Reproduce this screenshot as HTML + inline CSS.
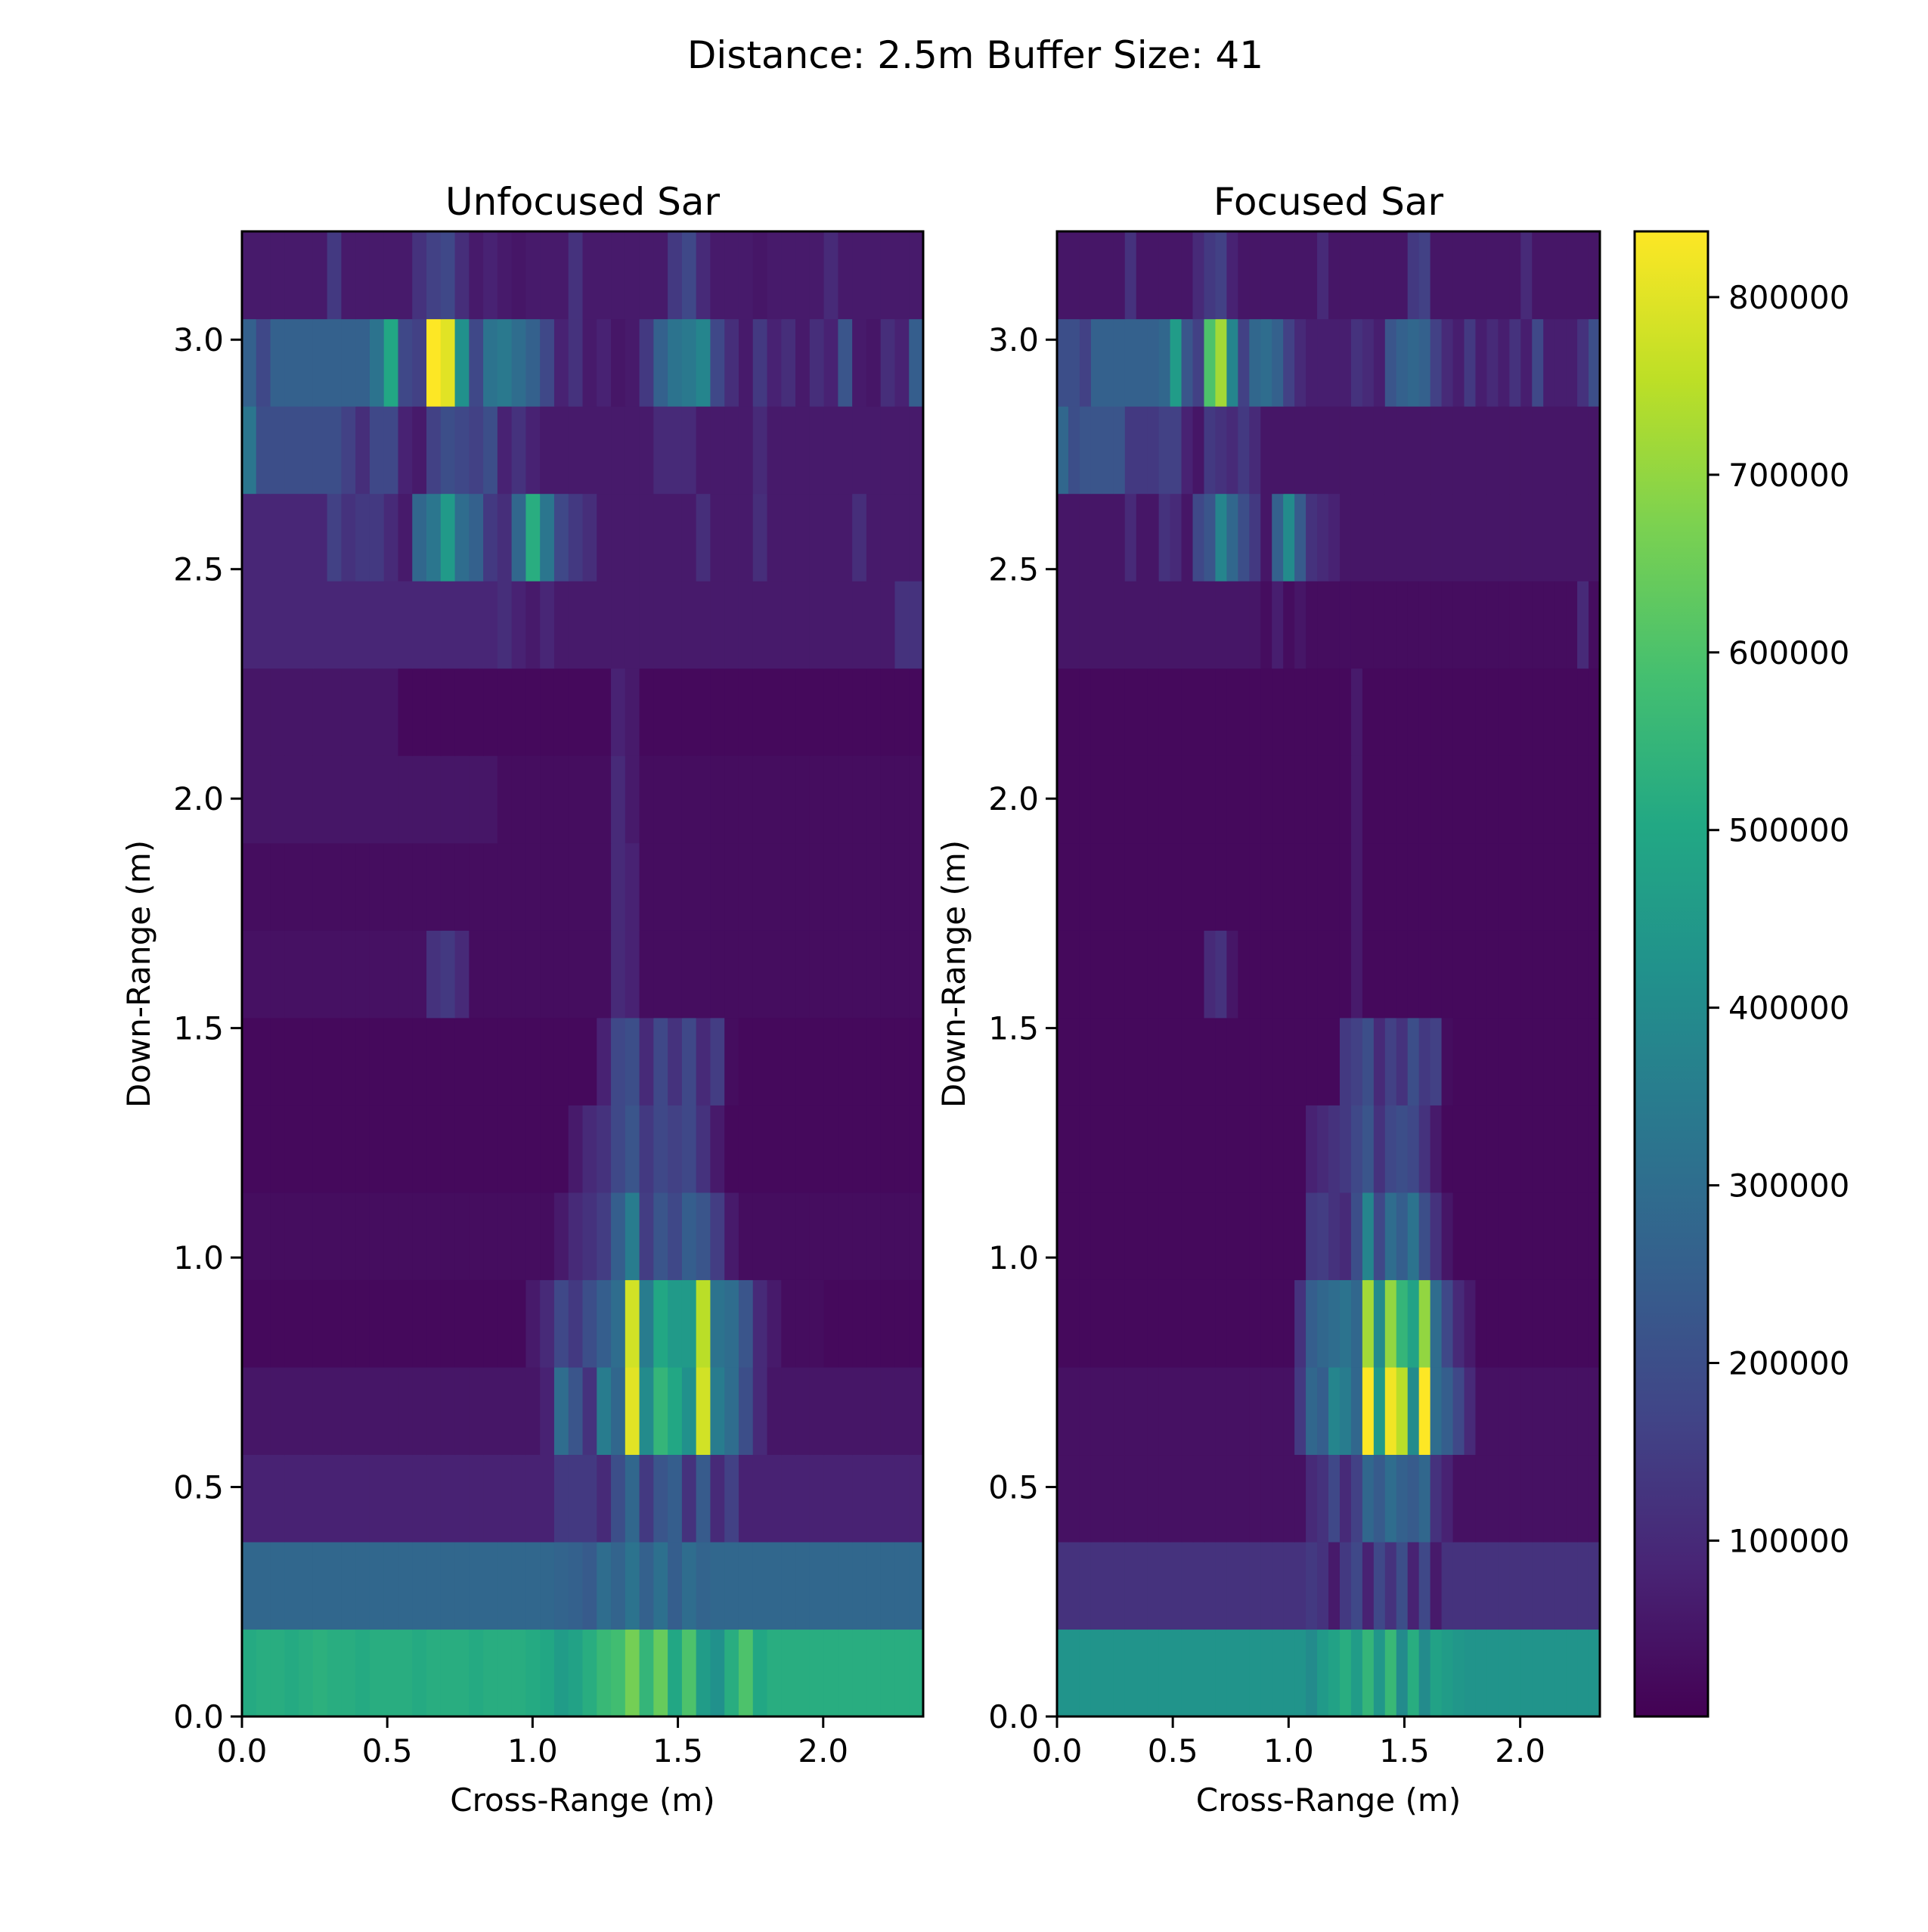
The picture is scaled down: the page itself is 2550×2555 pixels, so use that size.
<!DOCTYPE html>
<html><head><meta charset="utf-8"><style>
html,body{margin:0;padding:0;background:#fff}
svg text{font-family:"DejaVu Sans","Liberation Sans",sans-serif;fill:#000}
</style></head><body>
<svg id="fig" xmlns="http://www.w3.org/2000/svg" width="2550" height="2550" viewBox="0 0 2550 2550">
<rect width="2550" height="2550" fill="#fff"/>
<text x="1290" y="90" font-size="50" text-anchor="middle">Distance: 2.5m Buffer Size: 41</text>
<defs><linearGradient id="vir" x1="0" y1="1" x2="0" y2="0">
<stop offset="0" stop-color="#440154"/><stop offset="0.1" stop-color="#482475"/><stop offset="0.2" stop-color="#414487"/><stop offset="0.3" stop-color="#355f8d"/><stop offset="0.4" stop-color="#2a788e"/><stop offset="0.5" stop-color="#21918c"/><stop offset="0.6" stop-color="#22a884"/><stop offset="0.7" stop-color="#44bf70"/><stop offset="0.8" stop-color="#7ad151"/><stop offset="0.9" stop-color="#bddf26"/><stop offset="1" stop-color="#fde725"/>
</linearGradient></defs>
<g id="left"></g><g id="right"></g><g id="cbar"></g>
</svg>
<script>
// data in units of 10,000; rows bottom (0 m) to top
const xExtent = 2.344;
const yExtent = 3.236;
const vMin = 1000;
const vMax = 837000;
const xTicks = [0.0, 0.5, 1.0, 1.5, 2.0];
const xTickLabels = ["0.0","0.5","1.0","1.5","2.0"];
const yTicks = [0.0, 0.5, 1.0, 1.5, 2.0, 2.5, 3.0];
const yTickLabels = ["0.0","0.5","1.0","1.5","2.0","2.5","3.0"];
const cbTicks = [100000,200000,300000,400000,500000,600000,700000,800000];
const cbTickLabels = ["100000","200000","300000","400000","500000","600000","700000","800000"];
const unfocused = [
[51,52,52,51,52,53,52,52,51,52,52,52,51,52,52,52,51,52,52,52,51,50,46,48,52,56,58,66,55,64,50,60,46,42,52,60,50,52,52,52,52,52,52,52,52,52,52,52],
[28,28,28,28,28,28,28,28,28,28,28,28,28,28,28,28,28,28,28,28,28,28,27,26,24,30,27,32,26,31,25,30,27,28,28,28,28,28,28,28,28,28,28,28,28,28,28,28],
[8,8,8,8,8,8,8,8,8,8,8,8,8,8,8,8,8,8,8,8,8,8,14,14,14,10,20,28,14,22,25,12,24,10,16,8,8,8,8,8,8,8,8,8,8,8,8,8],
[5,5,5,5,5,5,5,5,5,5,5,5,5,5,5,5,5,5,5,5,5,8,30,22,12,35,28,80,40,55,50,42,78,35,30,20,10,5,5,5,5,5,5,5,5,5,5,5],
[2,2,2,2,2,2,2,2,2,2,2,2,2,2,2,2,2,2,2,2,6,10,18,14,20,25,30,78,35,50,45,45,75,32,30,22,10,6,3,3,3,2,2,2,2,2,2,2],
[3,3,3,3,3,3,3,3,3,3,3,3,3,3,3,3,3,3,3,3,3,3,6,10,12,15,25,35,15,22,18,25,22,15,6,3,3,3,3,3,3,3,3,3,3,3,3,3],
[2,2,2,2,2,2,2,2,2,2,2,2,2,2,2,2,2,2,2,2,2,2,2,6,10,12,18,22,14,18,16,18,12,6,2,2,2,2,2,2,2,2,2,2,2,2,2,2],
[2,2,2,2,2,2,2,2,2,2,2,2,2,2,2,2,2,2,2,2,2,2,2,2,2,8,18,20,10,18,12,18,10,15,3,2,2,2,2,2,2,2,2,2,2,2,2,2],
[4,4,4,4,4,4,4,4,4,4,4,4,4,12,14,10,3,3,3,3,3,3,3,3,3,3,10,8,3,3,3,3,3,3,3,3,3,3,3,3,3,3,3,3,3,3,3,3],
[3,3,3,3,3,3,3,3,3,3,3,3,3,3,3,3,3,3,3,3,3,3,3,3,3,3,10,8,3,3,3,3,3,3,3,3,3,3,3,3,3,3,3,3,3,3,3,3],
[5,5,5,5,5,5,5,5,5,5,5,5,5,5,5,5,5,5,3,3,3,3,3,3,3,3,10,6,3,3,3,3,3,3,3,3,3,3,3,3,3,3,3,3,3,3,3,3],
[5,5,5,5,5,5,5,5,5,5,5,2,2,2,2,2,2,2,2,2,2,2,2,2,2,2,8,6,2,2,2,2,2,2,2,2,2,2,2,2,2,2,2,2,2,2,2,2],
[9,9,9,9,9,9,9,9,9,9,9,9,9,9,9,9,9,9,11,8,6,9,6,6,6,6,6,6,6,6,6,6,6,6,6,6,6,6,6,6,6,6,6,6,6,6,12,12],
[9,9,9,9,9,9,16,12,14,14,10,6,28,33,45,30,26,14,11,28,52,33,18,14,11,6,6,6,6,6,6,6,11,6,6,6,11,6,6,6,6,6,6,11,6,6,6,6],
[33,20,20,20,20,20,20,16,11,18,18,8,6,16,20,18,16,20,8,12,8,6,6,6,6,6,6,6,6,10,10,10,6,6,6,6,10,6,6,6,6,6,6,6,6,6,6,6],
[26,18,26,26,26,26,26,26,26,32,50,18,16,84,80,42,18,32,34,30,26,18,8,12,6,8,5,6,14,26,32,34,38,18,11,6,14,8,11,6,11,8,22,6,5,11,8,25],
[6,6,6,6,6,6,14,6,6,6,6,6,12,16,18,11,6,8,6,5,6,6,6,12,6,6,6,6,6,6,14,18,10,6,6,6,5,6,6,6,6,10,6,6,6,6,6,6]
];
const focused = [
[43,43,43,43,43,43,43,43,43,43,43,43,43,43,43,43,43,43,43,43,43,43,40,45,48,52,46,55,44,56,40,52,40,48,46,44,43,43,43,43,43,43,43,43,43,43,43,43],
[12,12,12,12,12,12,12,12,12,12,12,12,12,12,12,12,12,12,12,12,12,12,14,12,6,14,18,8,18,12,20,8,18,6,12,12,12,12,12,12,12,12,12,12,12,12,12,12],
[4,4,4,4,4,4,4,4,4,4,4,4,4,4,4,4,4,4,4,4,4,4,10,12,18,10,16,28,24,30,26,24,28,12,8,4,4,4,4,4,4,4,4,4,4,4,4,4],
[4,4,4,4,4,4,4,4,4,4,4,4,4,4,4,4,4,4,4,4,4,14,28,25,38,35,28,84,45,82,75,40,84,30,25,18,10,4,4,4,4,4,4,4,4,4,4,4],
[2,2,2,2,2,2,2,2,2,2,2,2,2,2,2,2,2,2,2,2,2,12,25,28,30,32,28,72,40,70,55,48,70,30,18,10,6,2,2,2,2,2,2,2,2,2,2,2],
[2,2,2,2,2,2,2,2,2,2,2,2,2,2,2,2,2,2,2,2,2,2,14,15,12,10,20,38,18,30,25,32,20,12,5,2,2,2,2,2,2,2,2,2,2,2,2,2],
[2,2,2,2,2,2,2,2,2,2,2,2,2,2,2,2,2,2,2,2,2,2,8,10,12,14,18,22,12,18,20,18,12,6,2,2,2,2,2,2,2,2,2,2,2,2,2,2],
[2,2,2,2,2,2,2,2,2,2,2,2,2,2,2,2,2,2,2,2,2,2,2,2,2,14,16,20,10,16,12,20,14,16,3,2,2,2,2,2,2,2,2,2,2,2,2,2],
[2,2,2,2,2,2,2,2,2,2,2,2,2,10,12,5,2,2,2,2,2,2,2,2,2,2,6,2,2,2,2,2,2,2,2,2,2,2,2,2,2,2,2,2,2,2,2,2],
[2,2,2,2,2,2,2,2,2,2,2,2,2,2,2,2,2,2,2,2,2,2,2,2,2,2,6,2,2,2,2,2,2,2,2,2,2,2,2,2,2,2,2,2,2,2,2,2],
[2,2,2,2,2,2,2,2,2,2,2,2,2,2,2,2,2,2,2,2,2,2,2,2,2,2,6,2,2,2,2,2,2,2,2,2,2,2,2,2,2,2,2,2,2,2,2,2],
[2,2,2,2,2,2,2,2,2,2,2,2,2,2,2,2,2,2,2,2,2,2,2,2,2,2,6,2,2,2,2,2,2,2,2,2,2,2,2,2,2,2,2,2,2,2,2,2],
[5,5,5,5,5,5,5,5,5,5,5,5,5,5,5,5,5,5,3,7,3,5,3,3,3,3,3,3,3,3,3,3,3,3,3,3,3,3,3,3,3,3,3,3,3,3,10,3],
[5,5,5,5,5,5,10,5,5,12,10,5,18,22,38,28,20,14,5,26,40,24,12,10,8,5,5,5,5,5,5,5,5,5,5,5,5,5,5,5,5,5,5,5,5,5,5,5],
[28,20,22,22,22,22,14,14,14,16,16,8,5,14,12,10,14,10,5,5,5,5,5,5,5,5,5,5,5,5,5,5,5,5,5,5,5,5,5,5,5,5,5,5,5,5,5,5],
[20,20,16,26,26,26,26,26,26,28,46,22,16,60,72,38,16,28,30,26,16,10,7,7,7,7,12,10,7,22,26,28,26,16,10,7,14,7,10,7,12,7,18,7,7,7,12,20],
[5,5,5,5,5,5,12,5,5,5,5,5,10,14,16,8,5,5,5,5,5,5,5,10,5,5,5,5,5,5,5,14,16,5,5,5,5,5,5,5,5,10,5,5,5,5,5,5]
];
const NS = "http://www.w3.org/2000/svg";
const VIR = [[0x44,0x01,0x54],[0x48,0x24,0x75],[0x41,0x44,0x87],[0x35,0x5f,0x8d],[0x2a,0x78,0x8e],[0x21,0x91,0x8c],[0x22,0xa8,0x84],[0x44,0xbf,0x70],[0x7a,0xd1,0x51],[0xbd,0xdf,0x26],[0xfd,0xe7,0x25]];
function viridis(v){
  let t=(v-vMin)/(vMax-vMin); t=Math.max(0,Math.min(1,t));
  const s=t*10, i=Math.min(9,Math.floor(s)), f=s-i;
  const a=VIR[i], b=VIR[i+1];
  return "rgb("+a.map((c,k)=>Math.round(c+(b[k]-c)*f)).join(",")+")";
}
function mk(tag, attrs, parent){
  const e=document.createElementNS(NS,tag);
  for(const k in attrs) e.setAttribute(k,attrs[k]);
  parent.appendChild(e); return e;
}
function drawPanel(g, data, L, R, T, B, title, nm){
  const sx = x => L + x/xExtent*(R-L);
  const sy = y => B - y/yExtent*(B-T);
  const nr=data.length;
  const dy=yExtent/nr;
  data.forEach((row,ri)=>{
    const nc=row.length, dx=xExtent/nc;
    row.forEach((v,ci)=>{
      const x0=sx(ci*dx), x1=sx((ci+1)*dx), y0=sy((ri+1)*dy), y1=sy(ri*dy);
      const r=mk("rect",{x:x0,y:y0,width:x1-x0+0.6,height:y1-y0+0.6,fill:viridis(v*10000)},g);
      
      
    });
  });
  const fr=mk("rect",{x:L,y:T,width:R-L,height:B-T,fill:"none",stroke:"#000","stroke-width":3},g);
  
  
  xTicks.forEach((v,i)=>{
    const x=sx(v);
    const tk=mk("line",{x1:x,y1:B,x2:x,y2:B+15,stroke:"#000","stroke-width":3},g);
    
    
    const t=mk("text",{x:x,y:B+60,"font-size":42,"text-anchor":"middle"},g);
    t.textContent=xTickLabels[i];
    
    
  });
  yTicks.forEach((v,i)=>{
    const y=sy(v);
    const tk=mk("line",{x1:L-15,y1:y,x2:L,y2:y,stroke:"#000","stroke-width":3},g);
    
    
    const t=mk("text",{x:L-24,y:y+15,"font-size":42,"text-anchor":"end"},g);
    t.textContent=yTickLabels[i];
    
    
  });
  const tt=mk("text",{x:(L+R)/2,y:T-22,"font-size":50,"text-anchor":"middle"},g);
  tt.textContent=title;
  
  
  const xl=mk("text",{x:(L+R)/2,y:B+125,"font-size":42,"text-anchor":"middle"},g);
  xl.textContent="Cross-Range (m)";
  
  
  const yx=L-122, yy=(T+B)/2;
  const yl=mk("text",{x:yx,y:yy,"font-size":42,"text-anchor":"middle",transform:"rotate(-90 "+yx+" "+yy+")"},g);
  yl.textContent="Down-Range (m)";
  
  
}
drawPanel(document.getElementById("left"), unfocused, 320, 1221, 306, 2270, "Unfocused Sar", "unfocused");
drawPanel(document.getElementById("right"), focused, 1398, 2116, 306, 2270, "Focused Sar", "focused");
(function(){
  const g=document.getElementById("cbar");
  const L=2162,R=2259,T=306,B=2270;
  const sy = v => B - (v-vMin)/(vMax-vMin)*(B-T);
  const r=mk("rect",{x:L,y:T,width:R-L,height:B-T,fill:"url(#vir)",stroke:"#000","stroke-width":3},g);
  
  
  cbTicks.forEach((v,i)=>{
    const y=sy(v);
    const tk=mk("line",{x1:R,y1:y,x2:R+15,y2:y,stroke:"#000","stroke-width":3},g);
    
    
    const t=mk("text",{x:R+27,y:y+15,"font-size":42},g);
    t.textContent=cbTickLabels[i];
    
    
  });
})();
</script>
</body></html>
